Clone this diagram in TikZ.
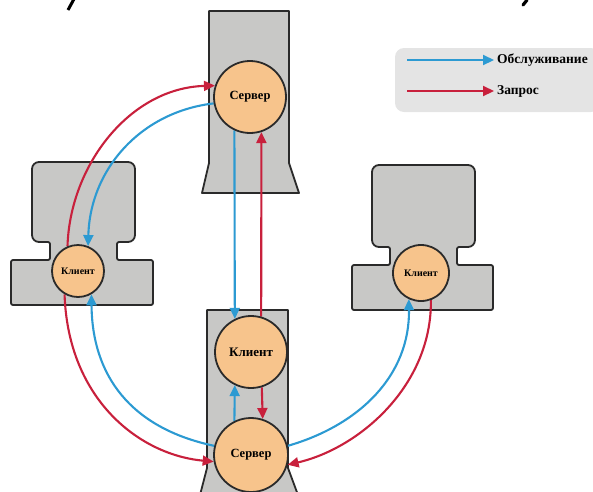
\documentclass[tikz,border=0pt]{standalone}
\usepackage{fontspec}
\setmainfont{Liberation Serif}
\usetikzlibrary{arrows.meta}
\pgfdeclarelayer{bg}
\pgfdeclarelayer{mid}
\pgfsetlayers{bg,mid,main}
\definecolor{boxgray}{HTML}{C8C8C6}
\definecolor{edgegray}{HTML}{2A2A2A}
\definecolor{circfill}{HTML}{F7C48C}
\definecolor{arrblue}{HTML}{2C9AD2}
\definecolor{arrred}{HTML}{C8203C}
\definecolor{leggray}{HTML}{E4E4E4}
\begin{document}
\begin{tikzpicture}[x=1pt,y=-1pt,
  hostbox/.style={fill=boxgray,draw=edgegray,line width=1.8pt,line join=round},
  circ/.style={circle,fill=circfill,draw=edgegray,line width=1.8pt,inner sep=0pt,font=\bfseries},
  barr/.style={draw=arrblue,line width=2.1pt,-{Triangle[length=11pt,width=10pt]}},
  rarr/.style={draw=arrred,line width=2.1pt,-{Triangle[length=11pt,width=10pt]}},
  legtext/.style={anchor=west,font=\bfseries\fontsize{13.5}{15}\selectfont,inner sep=0pt}]
\clip (0,0) rectangle (593,491);
\path[use as bounding box] (0,0) rectangle (593,491);

% circles (main layer, on top)
\node[circ,minimum size=72pt,font=\bfseries\fontsize{12.5}{14}\selectfont] (ts) at (250,97) {Сервер};
\node[circ,minimum size=72pt,font=\bfseries\fontsize{13}{15}\selectfont] (bc) at (251,352) {Клиент};
\node[circ,minimum size=74pt,font=\bfseries\fontsize{12.5}{14}\selectfont] (bs) at (251,455) {Сервер};
\node[circ,minimum size=52pt,font=\bfseries\fontsize{10}{12}\selectfont] (lc) at (78,271) {Клиент};
\node[circ,minimum size=56pt,font=\bfseries\fontsize{10}{12}\selectfont] (rc) at (421,273) {Клиент};

\begin{pgfonlayer}{bg}
  % title fragments
  \draw[line width=3pt] (68,10) -- (74,-1);
  \draw[line width=3.2pt,line cap=round] (523,5) -- (527,0);
  % top server box
  \draw[hostbox] (209,11) -- (289,11) -- (289,163) -- (299,193) -- (202,193) -- (209,163) -- cycle;
  % bottom server box
  \draw[hostbox] (207,310) -- (288,310) -- (288,468) -- (298,495) -- (200,495) -- (207,468) -- cycle;
  % left client
  \draw[hostbox,rounded corners=2pt] (11,305) -- (11,260) -- (50,260) -- (50,242)
     [rounded corners=7pt] -- (32,242) -- (32,162) -- (135,162) -- (135,242)
     [rounded corners=2pt] -- (117,242) -- (117,260) -- (153,260) -- (153,305) -- cycle;
  % right client
  \draw[hostbox,rounded corners=2pt] (352,310) -- (352,265) -- (390,265) -- (390,247)
     [rounded corners=7pt] -- (372,247) -- (372,165) -- (475,165) -- (475,247)
     [rounded corners=2pt] -- (457,247) -- (457,265) -- (493,265) -- (493,310) -- cycle;
  % legend
  \fill[leggray,rounded corners=9pt] (395,48) rectangle (600,112);
\end{pgfonlayer}

\begin{pgfonlayer}{mid}
  % vertical arrows
  \draw[barr] (ts.245) -- (bc.116);
  \draw[rarr] (bc.74) -- (ts.288);
  \draw[barr] (bs.116) -- (bc.244);
  \draw[rarr] (bc.287) -- (bs.72);
  % left side
  \draw[rarr] (lc.113) .. controls (70,165) and (130,88) .. (ts.162);
  \draw[barr] (ts.190) .. controls (140,112) and (90,170) .. (lc.68);
  \draw[rarr] (lc.240) .. controls (68,400) and (140,455) .. (bs.190);
  \draw[barr] (bs.166) .. controls (130,428) and (92,375) .. (lc.300);
  % right side
  \draw[barr] (bs.14) .. controls (360,425) and (410,375) .. (rc.245);
  \draw[rarr] (rc.290) .. controls (432,385) and (360,448) .. (bs.345);
\end{pgfonlayer}

% legend content
\coordinate (lb) at (407,60);
\node[legtext] (lbt) at (497,60) {Обслуживание};
\draw[barr] (lb) -- ([xshift=-3pt]lbt.west);
\coordinate (lr) at (407,91);
\node[legtext] (lrt) at (497,91) {Запрос};
\draw[rarr] (lr) -- ([xshift=-3pt]lrt.west);
\end{tikzpicture}
\end{document}
